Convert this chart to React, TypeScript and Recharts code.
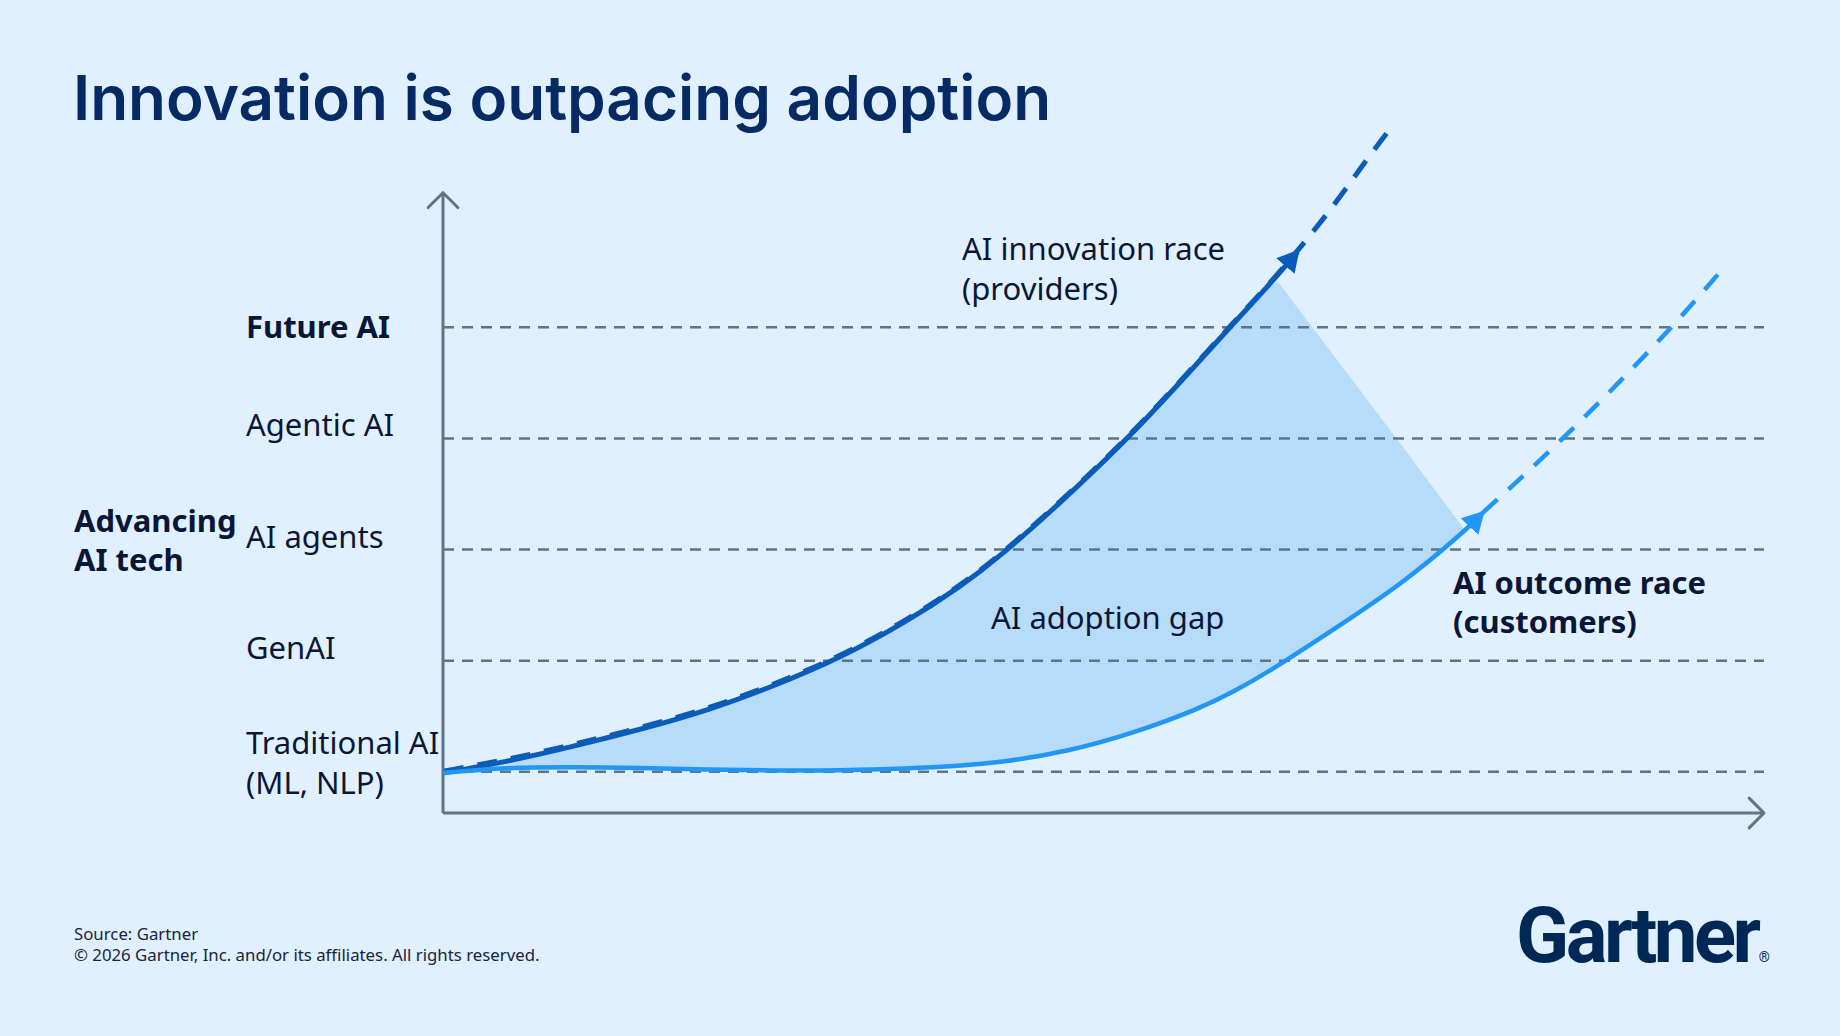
import { Area, ComposedChart, Line, ReferenceLine, XAxis, YAxis } from 'recharts';

const BG = '#e0f0fe';
const INNOV = '#0a5cb8';
const ADOPT = '#2196f5';
const GAP = '#b7dcfa';
const GRID = '#5d7586';
const INK = '#0b1636';
const NAVY = '#062a63';
const LABEL_FONT = "'Noto Sans', sans-serif";

// tiers on the y axis (1 = Traditional AI ... 5 = Future AI)
const tierValues = [1, 2, 3, 4, 5];
const tierLabels = [['Traditional AI', '(ML, NLP)'], ['GenAI'], ['AI agents'], ['Agentic AI'], ['Future AI']];

// AI innovation race (providers): solid part, then dashed projection
const innovX = [0, 4.8, 9.9, 14.9, 20, 25, 30, 35.1, 39.1, 42.2, 47.2, 52.3, 57.3, 59.8, 62.4, 64.7];
const innovY = [0.99, 1.09, 1.23, 1.38, 1.55, 1.77, 2.02, 2.35, 2.66, 2.94, 3.47, 4.05, 4.7, 5.03, 5.36, 5.68];
const innovAheadX = [67.4, 69.9, 71.7];
const innovAheadY = [6.08, 6.5, 6.78];

// AI outcome race (customers)
const adoptX = [0, 4.8, 9.9, 14.9, 20, 25, 30, 35.1, 39.1, 42.2, 47.2, 52.3, 57.3, 59.8, 62.4, 67.4, 72.5, 77.5, 78.7];
const adoptY = [0.99, 1.04, 1.045, 1.035, 1.02, 1.012, 1.012, 1.03, 1.054, 1.085, 1.18, 1.35, 1.57, 1.72, 1.89, 2.28, 2.68, 3.18, 3.33];
const adoptAheadX = [83.8, 88.9, 93.9, 97.2];
const adoptAheadY = [3.89, 4.49, 5.12, 5.57];

// shaded adoption gap (lower / upper edge)
const gapX = [0, 4.8, 9.9, 14.9, 20, 25, 30, 35.1, 39.1, 42.2, 47.2, 52.3, 57.3, 59.8, 62.4, 63.2, 67.4, 72.5, 77.2];
const gapLow = [0.99, 1.04, 1.045, 1.035, 1.02, 1.012, 1.012, 1.03, 1.054, 1.085, 1.18, 1.35, 1.57, 1.72, 1.89, 1.94, 2.28, 2.68, 3.15];
const gapHigh = [0.99, 1.09, 1.23, 1.38, 1.55, 1.77, 2.02, 2.35, 2.66, 2.94, 3.47, 4.05, 4.7, 5.03, 5.36, 5.41, 4.75, 3.95, 3.2];

const toPoints = (xs: number[], ys: number[]) => xs.map((x, i) => ({ x, y: ys[i] }));

const innovSolid = toPoints(innovX, innovY);
const innovDashed = toPoints([...innovX, ...innovAheadX], [...innovY, ...innovAheadY]);
const adoptSolid = toPoints(adoptX, adoptY);
const adoptDashed = toPoints(
  [adoptX[adoptX.length - 1], ...adoptAheadX],
  [adoptY[adoptY.length - 1], ...adoptAheadY],
);
const gapData = gapX.map((x, i) => ({ x, range: [gapLow[i], gapHigh[i]] }));

const Y_MIN = 0.63;
const Y_AXIS_TOP = 6.21;

function TierTick(props: any) {
  const { y, payload } = props;
  const idx = tierValues.indexOf(payload.value);
  const lines = tierLabels[idx] ?? [];
  const bold = idx === tierValues.length - 1;
  const baselines = lines.length === 2 ? [y - 18, y + 22] : [bold ? y + 11 : y - 2];
  return (
    <g>
      {lines.map((t, i) => (
        <text
          key={i}
          x={246}
          y={baselines[i]}
          fontFamily={LABEL_FONT}
          fontSize={31}
          fontWeight={bold ? 700 : 400}
          fill={INK}
        >
          {t}
        </text>
      ))}
    </g>
  );
}

function ArrowAxis(props: any) {
  const { x1, y1, x2, y2 } = props;
  const ang = Math.atan2(y2 - y1, x2 - x1);
  const len = 21;
  const a1 = ang + Math.PI - Math.PI / 4;
  const a2 = ang + Math.PI + Math.PI / 4;
  const p1 = `${x2 + len * Math.cos(a1)},${y2 + len * Math.sin(a1)}`;
  const p2 = `${x2 + len * Math.cos(a2)},${y2 + len * Math.sin(a2)}`;
  return (
    <g>
      <line x1={x1} y1={y1} x2={x2} y2={y2} stroke={GRID} strokeWidth={3} />
      <polyline points={`${p1} ${x2},${y2} ${p2}`} fill="none" stroke={GRID} strokeWidth={3} strokeLinecap="round" strokeLinejoin="round" />
    </g>
  );
}

export default function App() {
  return (
    <div style={{ position: 'absolute', left: 0, top: 0, width: 1840, height: 1036, background: BG, overflow: 'hidden' }}>
      <style>{'.innov-dash .recharts-line-curve { transform: translate(1px, -2px); }'}</style>
      <ComposedChart width={1840} height={1036} margin={{ top: 116, right: 76, bottom: 223, left: 0 }}>
        <defs>
          <marker id="arrow-innov" viewBox="0 0 22 24" markerWidth={22} markerHeight={24} refX={19} refY={12} orient="auto" markerUnits="userSpaceOnUse">
            <path d="M0,0 L22,12 L0,24 z" fill={INNOV} />
          </marker>
          <marker id="arrow-adopt" viewBox="0 0 22 24" markerWidth={22} markerHeight={24} refX={19} refY={12} orient="auto" markerUnits="userSpaceOnUse">
            <path d="M0,0 L22,12 L0,24 z" fill={ADOPT} />
          </marker>
        </defs>
        <XAxis type="number" dataKey="x" domain={[0, 100]} hide allowDataOverflow />
        <YAxis
          type="number"
          domain={[Y_MIN, 6.9]}
          ticks={tierValues}
          width={443}
          axisLine={false}
          tickLine={false}
          tick={<TierTick />}
          allowDataOverflow
        />
        <Area
          data={gapData}
          dataKey="range"
          type="linear"
          stroke="none"
          fill={GAP}
          fillOpacity={1}
          isAnimationActive={false}
          dot={false}
          activeDot={false}
        />
        {tierValues.map((v) => (
          <ReferenceLine key={v} y={v} stroke={GRID} strokeWidth={2.5} strokeDasharray="11 8" ifOverflow="visible" />
        ))}
        <ReferenceLine segment={[{ x: 0, y: Y_MIN }, { x: 0, y: Y_AXIS_TOP }]} ifOverflow="visible" shape={ArrowAxis} />
        <ReferenceLine segment={[{ x: 0, y: Y_MIN }, { x: 100, y: Y_MIN }]} ifOverflow="visible" shape={ArrowAxis} />
        <Line
          className="innov-dash"
          data={innovDashed}
          dataKey="y"
          type="basis"
          stroke={INNOV}
          strokeWidth={5}
          strokeDasharray="20 14"
          dot={false}
          activeDot={false}
          isAnimationActive={false}
        />
        <Line
          data={innovSolid}
          dataKey="y"
          type="basis"
          stroke={INNOV}
          strokeWidth={5}
          dot={false}
          activeDot={false}
          markerEnd="url(#arrow-innov)"
          isAnimationActive={false}
        />
        <Line
          data={adoptDashed}
          dataKey="y"
          type="monotone"
          stroke={ADOPT}
          strokeWidth={4.5}
          strokeDasharray="20 15"
          dot={false}
          activeDot={false}
          isAnimationActive={false}
        />
        <Line
          data={adoptSolid}
          dataKey="y"
          type="basis"
          stroke={ADOPT}
          strokeWidth={4.5}
          dot={false}
          activeDot={false}
          markerEnd="url(#arrow-adopt)"
          isAnimationActive={false}
        />
      </ComposedChart>

      <svg width={1840} height={1036} style={{ position: 'absolute', left: 0, top: 0, pointerEvents: 'none' }}>
        <text x={73} y={120} fontFamily="Inter, sans-serif" fontWeight={600} fontSize={62} fill={NAVY}>
          Innovation is outpacing adoption
        </text>
        <g fontFamily={LABEL_FONT} fontSize={31} fill={INK}>
          <text x={74} y={532} fontWeight={700}>Advancing</text>
          <text x={74} y={571} fontWeight={700}>AI tech</text>
          <text x={962} y={260}>AI innovation race</text>
          <text x={962} y={300}>(providers)</text>
          <text x={991} y={629}>AI adoption gap</text>
          <text x={1453} y={594} fontWeight={700}>AI outcome race</text>
          <text x={1453} y={633} fontWeight={700}>(customers)</text>
        </g>
        <g fontFamily={LABEL_FONT} fontSize={16.8} fill="#1b2438">
          <text x={74} y={940}>Source: Gartner</text>
          <text x={74} y={961}>© 2026 Gartner, Inc. and/or its affiliates. All rights reserved.</text>
        </g>
        <text x={1516} y={962} fontFamily="Roboto, sans-serif" fontWeight={700} fontSize={78} letterSpacing={-3.5} fill="#002856">
          Gartner<tspan fontSize={14} dx={1} fontWeight={400}>®</tspan>
        </text>
      </svg>
    </div>
  );
}
